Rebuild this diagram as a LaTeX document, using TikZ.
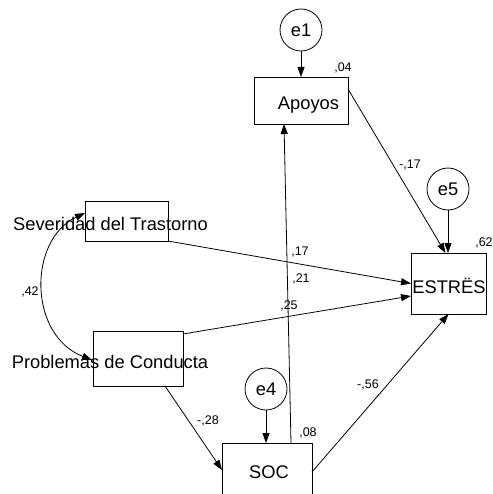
\documentclass[tikz,border=0pt]{standalone}
\usepackage{fontspec}
\setmainfont{Liberation Sans}
\usetikzlibrary{arrows.meta,calc}
\newcommand\varfont{\fontsize{18.3}{22}\selectfont}
\newcommand\cffont{\fontsize{12.5}{15}\selectfont}
\begin{document}
\begin{tikzpicture}[x=1pt,y=-1pt,
  every node/.style={inner sep=0pt, outer sep=0pt},
  obs/.style={draw, line width=0.8pt, rectangle},
  err/.style={draw, line width=0.8pt, circle, minimum size=42pt, font=\varfont},
  vartext/.style={font=\varfont, anchor=base},
  coef/.style={font=\cffont},
  reg/.style={draw, line width=0.8pt, -{Triangle[length=10pt,width=7pt]}},
  corr/.style={draw, line width=0.8pt, {Triangle[length=10pt,width=7pt]}-{Triangle[length=10pt,width=7pt]}}
]
\clip (0,0) rectangle (492,494);

% observed variables
\node[obs, minimum width=94pt, minimum height=47pt] (apoyos) at (301,100.5) {};
\node[obs, minimum width=75pt, minimum height=61pt] (estres) at (448.5,283.5) {};
\node[obs, minimum width=83pt, minimum height=40pt] (sev) at (126.5,221) {};
\node[obs, minimum width=90pt, minimum height=55pt] (prob) at (138,358.5) {};
\node[obs, minimum width=90pt, minimum height=54pt] (soc) at (267,470) {};

% variable names
\node[vartext] (tapoyos) at (308.5,110) {Apoyos};
\node[vartext] (testres) at (449,293) {ESTRËS};
\node[vartext] (tsev) at (110.5,230) {Severidad del Trastorno};
\node[vartext] (tprob) at (110,368) {Problemas de Conducta};
\node[vartext] (tsoc) at (269,478) {SOC};

% error terms
\node[err] (e1) at (301,30) {e1};
\node[err] (e5) at (448,189) {e5};
\node[err] (e4) at (266,389) {e4};

% error paths
\draw[reg] (e1) -- (apoyos);
\draw[reg] (e5) -- (estres.north -| e5);
\draw[reg] (e4) -- (soc.north -| e4);

% structural paths
\draw[reg] ($(apoyos.north east)+(0,12)$) -- ($(estres.north)+(-3,0)$);
\draw[reg] (sev.south east) -- (estres.west);
\draw[reg] ($(prob.north east)+(0,3)$) -- ($(estres.west)+(0,12.5)$);
\draw[reg] ($(soc.north east)+(0,29)$) -- (estres.south);
\draw[reg] ($(soc.north)+(24,0)$) -- ($(apoyos.south)+(-17,0)$);
\draw[reg] ($(prob.south east)+(-18,0)$) -- (soc.west);

% covariance
\draw[corr] ($(sev.west)+(0,-8)$) .. controls (28,240) and (28,335) .. ($(prob.west)+(-1,1.5)$);

% estimates
\node[coef] (c04) at (343,68) {,04};
\node[coef] (c62) at (484,243) {,62};
\node[coef] (c08) at (308,433) {,08};
\node[coef] (c17) at (300,252) {,17};
\node[coef] (c21) at (301,279) {,21};
\node[coef] (c25) at (289,306) {,25};
\node[coef] (cm17) at (410,165) {-,17};
\node[coef] (cm56) at (368,385) {-,56};
\node[coef] (cm28) at (208,421) {-,28};
\node[coef] (c42) at (30,292) {,42};
\end{tikzpicture}
\end{document}
